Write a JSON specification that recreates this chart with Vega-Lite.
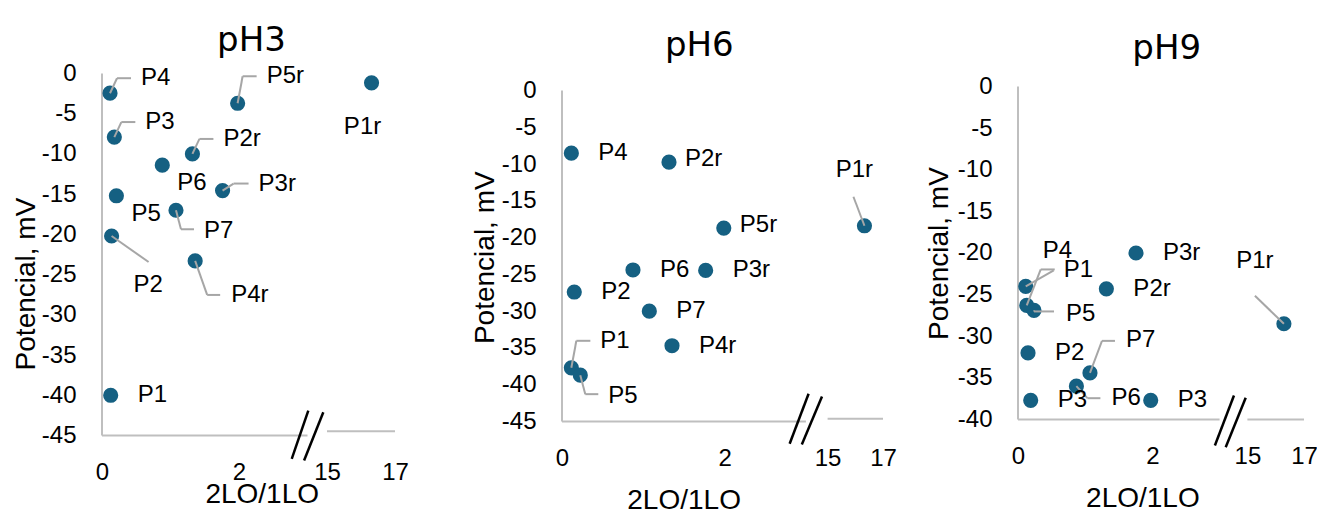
{
  "$schema": "https://vega.github.io/schema/vega-lite/v6.json",
  "padding": {"left": 12, "top": 23.5, "right": 0, "bottom": 0},
  "bounds": "flush",
  "spacing": 0,
  "params": [
    {"name": "posCats", "value": ["E","En","SEn","S","NE1","NE2","NE3","NE4","NEd","ENE","EL","SE1","SE2","SE3","SSE","N","NW"]},
    {"name": "posDx", "value": [27,16,15,-9,31,29,36,37,17,36,32,28,36,35,22,-10,-29]},
    {"name": "posDy", "value": [0,-3,18,44,-15,-27,-33,-35,-35,-7,4,21,34,12,49,-56,-63]},
    {"name": "posEx", "value": [0,0,0,0,7,5,12,14,28,11,0,5,12,11,37,-11,-29]},
    {"name": "posEy", "value": [0,0,0,0,-15,-27,-32,-36,-16,-7,1,19,34,12,26,-29,-28]},
    {"name": "posHx", "value": [0,0,0,0,21,19,25,28,28,26,20,18,25,24,37,-11,-29]}
  ],
  "datasets": {
    "ph3": [
      {"label":"P1","ratio":0.127,"potential":-40.0,"pos":"E"},
      {"label":"P2","ratio":0.14,"potential":-20.2,"pos":"SSE"},
      {"label":"P3","ratio":0.18,"potential":-7.9,"pos":"NE1"},
      {"label":"P4","ratio":0.117,"potential":-2.45,"pos":"NE1"},
      {"label":"P5","ratio":0.21,"potential":-15.2,"pos":"SEn"},
      {"label":"P6","ratio":0.88,"potential":-11.4,"pos":"SEn"},
      {"label":"P7","ratio":1.08,"potential":-17.0,"pos":"SE1"},
      {"label":"P1r","ratio":16.31,"potential":-1.16,"pos":"S"},
      {"label":"P2r","ratio":1.32,"potential":-10.0,"pos":"NE1"},
      {"label":"P3r","ratio":1.76,"potential":-14.55,"pos":"ENE"},
      {"label":"P4r","ratio":1.36,"potential":-23.3,"pos":"SE2"},
      {"label":"P5r","ratio":1.98,"potential":-3.7,"pos":"NE2"}
    ],
    "ph6": [
      {"label":"P1","ratio":0.115,"potential":-37.7,"pos":"NE2"},
      {"label":"P2","ratio":0.151,"potential":-27.4,"pos":"E"},
      {"label":"P4","ratio":0.115,"potential":-8.52,"pos":"E"},
      {"label":"P5","ratio":0.225,"potential":-38.7,"pos":"SE1"},
      {"label":"P6","ratio":0.873,"potential":-24.4,"pos":"E"},
      {"label":"P7","ratio":1.074,"potential":-30.0,"pos":"E"},
      {"label":"P1r","ratio":16.33,"potential":-18.39,"pos":"N"},
      {"label":"P2r","ratio":1.316,"potential":-9.74,"pos":"En"},
      {"label":"P3r","ratio":1.767,"potential":-24.46,"pos":"E"},
      {"label":"P4r","ratio":1.353,"potential":-34.7,"pos":"E"},
      {"label":"P5r","ratio":1.99,"potential":-18.7,"pos":"En"}
    ],
    "ph9": [
      {"label":"P1","ratio":0.13,"potential":-26.3,"pos":"NE4"},
      {"label":"P2","ratio":0.149,"potential":-32.0,"pos":"E"},
      {"label":"P3","ratio":0.189,"potential":-37.7,"pos":"E"},
      {"label":"P4","ratio":0.115,"potential":-24.0,"pos":"NEd"},
      {"label":"P5","ratio":0.238,"potential":-26.9,"pos":"EL"},
      {"label":"P6","ratio":0.869,"potential":-36.0,"pos":"SE3"},
      {"label":"P7","ratio":1.071,"potential":-34.4,"pos":"NE3"},
      {"label":"P1r","ratio":16.29,"potential":-28.5,"pos":"NW"},
      {"label":"P2r","ratio":1.315,"potential":-24.3,"pos":"E"},
      {"label":"P3r","ratio":1.756,"potential":-20.0,"pos":"E"},
      {"label":"P3","ratio":1.975,"potential":-37.7,"pos":"E"}
    ]
  },
  "hconcat": [
    {
      "width": 459.7, "height": 362,
      "title": {"text": "pH3", "anchor": "start", "frame": "group", "align": "center", "dx": 149.5, "baseline": "alphabetic", "offset": -23.4, "font": "DejaVu Sans", "fontSize": 34, "fontWeight": "normal", "color": "#000"},
      "data": {"name": "ph3"},
      "layer": [
        {"data": {"values": [{}]}, "mark": {"type": "rule", "color": "#bfbfbf", "strokeWidth": 2},
         "encoding": {"x": {"datum": 0, "type": "quantitative"}, "y": {"datum": 0, "type": "quantitative"}, "y2": {"datum": -45}}},
        {"data": {"values": [{}]}, "mark": {"type": "rule", "color": "#bfbfbf", "strokeWidth": 2},
         "encoding": {"x": {"datum": 0, "type": "quantitative"}, "x2": {"datum": 3}, "y": {"datum": -45, "type": "quantitative"}}},
        {"data": {"values": [{}]}, "mark": {"type": "rule", "color": "#bfbfbf", "strokeWidth": 2},
         "encoding": {"x": {"datum": 15, "type": "quantitative"}, "x2": {"datum": 17}, "y": {"datum": -44.47, "type": "quantitative"}}},
        {"data": {"values": [{}]}, "mark": {"type": "rule", "color": "#000", "strokeWidth": 2.5},
         "encoding": {"x": {"datum": 2.77, "type": "quantitative"}, "x2": {"datum": 3.49}, "y": {"datum": -47.9, "type": "quantitative"}, "y2": {"datum": -41.9}}},
        {"data": {"values": [{}]}, "mark": {"type": "rule", "color": "#000", "strokeWidth": 2.5},
         "encoding": {"x": {"datum": 2.95, "type": "quantitative"}, "x2": {"datum": 12.72}, "y": {"datum": -48.1, "type": "quantitative"}, "y2": {"datum": -42.1}}},
        {"mark": {"type": "circle", "size": 230, "color": "#156082", "opacity": 1},
         "encoding": {
           "x": {"field": "ratio", "type": "quantitative",
                 "scale": {"domain": [0, 3, 15, 17], "range": [0, 205.5, 225, 293], "nice": false, "zero": false},
                 "axis": {"values": [0, 2, 15, 17], "tickCount": 20, "labelPadding": 37, "labelBaseline": "middle", "labelFlush": false, "labelOverlap": false,
                          "title": "2LO/1LO", "titleX": 159.7, "titleY": 59, "titleAlign": "center", "titleBaseline": "middle",
                          "encode": {"labels": {"update": {"dy": {"signal": "datum.value > 10 ? -2 : 0"}}}}}},
           "y": {"field": "potential", "type": "quantitative",
                 "scale": {"domain": [-45, 0], "nice": false, "zero": false},
                 "axis": {"values": [0,-5,-10,-15,-20,-25,-30,-35,-40,-45], "tickCount": 20, "labelPadding": 26, "labelBaseline": "middle", "labelFlush": false, "labelOverlap": false,
                          "labelExpr": "replace(datum.label, '\u2212', '-')",
                          "title": "Potencial, mV", "titleAngle": 270, "titleX": -76, "titleY": 210, "titleAlign": "center", "titleBaseline": "middle"}}
         }},
        {"transform": [{"filter": "indexof(['E','En','SEn','S'], datum.pos) < 0"}],
         "mark": {"type": "rule", "color": "#a6a6a6", "strokeWidth": 2,
                  "x2Offset": {"expr": "posEx[indexof(posCats, datum.pos)]"}, "y2Offset": {"expr": "posEy[indexof(posCats, datum.pos)]"}},
         "encoding": {"x": {"field": "ratio", "type": "quantitative"}, "y": {"field": "potential", "type": "quantitative"}, "x2": {"field": "ratio"}, "y2": {"field": "potential"}}},
        {"transform": [{"filter": "indexof(['E','En','SEn','S','NEd','SSE','N','NW'], datum.pos) < 0"}],
         "mark": {"type": "rule", "color": "#a6a6a6", "strokeWidth": 2,
                  "xOffset": {"expr": "posEx[indexof(posCats, datum.pos)]"}, "yOffset": {"expr": "posEy[indexof(posCats, datum.pos)]"},
                  "x2Offset": {"expr": "posHx[indexof(posCats, datum.pos)]"}, "y2Offset": {"expr": "posEy[indexof(posCats, datum.pos)]"}},
         "encoding": {"x": {"field": "ratio", "type": "quantitative"}, "y": {"field": "potential", "type": "quantitative"}, "x2": {"field": "ratio"}, "y2": {"field": "potential"}}},
        {"mark": {"type": "text", "font": "Liberation Sans", "fontSize": 24, "color": "#000", "baseline": "middle",
                  "align": {"expr": "indexof(['S','N','NW'], datum.pos) >= 0 ? 'center' : 'left'"},
                  "dx": {"expr": "posDx[indexof(posCats, datum.pos)]"}, "dy": {"expr": "posDy[indexof(posCats, datum.pos)]"}},
         "encoding": {"x": {"field": "ratio", "type": "quantitative"}, "y": {"field": "potential", "type": "quantitative"}, "text": {"field": "label"}}}
      ]
    },
    {
      "width": 455.6, "height": 348,
      "title": {"text": "pH6", "anchor": "start", "frame": "group", "align": "center", "dx": 137.3, "baseline": "alphabetic", "offset": -16.4, "font": "DejaVu Sans", "fontSize": 34, "fontWeight": "normal", "color": "#000"},
      "data": {"name": "ph6"},
      "layer": [
        {"data": {"values": [{}]}, "mark": {"type": "rule", "color": "#bfbfbf", "strokeWidth": 2},
         "encoding": {"x": {"datum": 0, "type": "quantitative"}, "y": {"datum": 0, "type": "quantitative"}, "y2": {"datum": -45}}},
        {"data": {"values": [{}]}, "mark": {"type": "rule", "color": "#bfbfbf", "strokeWidth": 2},
         "encoding": {"x": {"datum": 0, "type": "quantitative"}, "x2": {"datum": 3}, "y": {"datum": -45, "type": "quantitative"}}},
        {"data": {"values": [{}]}, "mark": {"type": "rule", "color": "#bfbfbf", "strokeWidth": 2},
         "encoding": {"x": {"datum": 15, "type": "quantitative"}, "x2": {"datum": 17}, "y": {"datum": -44.63, "type": "quantitative"}}},
        {"data": {"values": [{}]}, "mark": {"type": "rule", "color": "#000", "strokeWidth": 2.5},
         "encoding": {"x": {"datum": 2.80, "type": "quantitative"}, "x2": {"datum": 4.49}, "y": {"datum": -48.03, "type": "quantitative"}, "y2": {"datum": -41.23}}},
        {"data": {"values": [{}]}, "mark": {"type": "rule", "color": "#000", "strokeWidth": 2.5},
         "encoding": {"x": {"datum": 2.95, "type": "quantitative"}, "x2": {"datum": 11.9}, "y": {"datum": -48.12, "type": "quantitative"}, "y2": {"datum": -41.6}}},
        {"mark": {"type": "circle", "size": 230, "color": "#156082", "opacity": 1},
         "encoding": {
           "x": {"field": "ratio", "type": "quantitative",
                 "scale": {"domain": [0, 3, 15, 17], "range": [0, 243.9, 265.6, 321], "nice": false, "zero": false},
                 "axis": {"values": [0, 2, 15, 17], "tickCount": 20, "labelPadding": 37, "labelBaseline": "middle", "labelFlush": false, "labelOverlap": false,
                          "title": "2LO/1LO", "titleX": 121.6, "titleY": 79, "titleAlign": "center", "titleBaseline": "middle",
                          "encode": {"labels": {"update": {"dy": {"signal": "datum.value > 10 ? -6 : 0"}}}}}},
           "y": {"field": "potential", "type": "quantitative",
                 "scale": {"domain": [-45, 2.31], "nice": false, "zero": false},
                 "axis": {"values": [0,-5,-10,-15,-20,-25,-30,-35,-40,-45], "tickCount": 20, "labelPadding": 26, "labelBaseline": "middle", "labelFlush": false, "labelOverlap": false,
                          "labelExpr": "replace(datum.label, '\u2212', '-')",
                          "title": "Potencial, mV", "titleAngle": 270, "titleX": -77, "titleY": 183.7, "titleAlign": "center", "titleBaseline": "middle"}}
         }},
        {"transform": [{"filter": "indexof(['E','En','SEn','S'], datum.pos) < 0"}],
         "mark": {"type": "rule", "color": "#a6a6a6", "strokeWidth": 2,
                  "x2Offset": {"expr": "posEx[indexof(posCats, datum.pos)]"}, "y2Offset": {"expr": "posEy[indexof(posCats, datum.pos)]"}},
         "encoding": {"x": {"field": "ratio", "type": "quantitative"}, "y": {"field": "potential", "type": "quantitative"}, "x2": {"field": "ratio"}, "y2": {"field": "potential"}}},
        {"transform": [{"filter": "indexof(['E','En','SEn','S','NEd','SSE','N','NW'], datum.pos) < 0"}],
         "mark": {"type": "rule", "color": "#a6a6a6", "strokeWidth": 2,
                  "xOffset": {"expr": "posEx[indexof(posCats, datum.pos)]"}, "yOffset": {"expr": "posEy[indexof(posCats, datum.pos)]"},
                  "x2Offset": {"expr": "posHx[indexof(posCats, datum.pos)]"}, "y2Offset": {"expr": "posEy[indexof(posCats, datum.pos)]"}},
         "encoding": {"x": {"field": "ratio", "type": "quantitative"}, "y": {"field": "potential", "type": "quantitative"}, "x2": {"field": "ratio"}, "y2": {"field": "potential"}}},
        {"mark": {"type": "text", "font": "Liberation Sans", "fontSize": 24, "color": "#000", "baseline": "middle",
                  "align": {"expr": "indexof(['S','N','NW'], datum.pos) >= 0 ? 'center' : 'left'"},
                  "dx": {"expr": "posDx[indexof(posCats, datum.pos)]"}, "dy": {"expr": "posDy[indexof(posCats, datum.pos)]"}},
         "encoding": {"x": {"field": "ratio", "type": "quantitative"}, "y": {"field": "potential", "type": "quantitative"}, "text": {"field": "label"}}}
      ]
    },
    {
      "width": 287, "height": 346,
      "title": {"text": "pH9", "anchor": "start", "frame": "group", "align": "center", "dx": 148.7, "baseline": "alphabetic", "offset": -19.5, "font": "DejaVu Sans", "fontSize": 34, "fontWeight": "normal", "color": "#000"},
      "data": {"name": "ph9"},
      "layer": [
        {"data": {"values": [{}]}, "mark": {"type": "rule", "color": "#bfbfbf", "strokeWidth": 2},
         "encoding": {"x": {"datum": 0, "type": "quantitative"}, "y": {"datum": 0, "type": "quantitative"}, "y2": {"datum": -40}}},
        {"data": {"values": [{}]}, "mark": {"type": "rule", "color": "#bfbfbf", "strokeWidth": 2},
         "encoding": {"x": {"datum": 0, "type": "quantitative"}, "x2": {"datum": 3}, "y": {"datum": -40, "type": "quantitative"}}},
        {"data": {"values": [{}]}, "mark": {"type": "rule", "color": "#bfbfbf", "strokeWidth": 2},
         "encoding": {"x": {"datum": 15, "type": "quantitative"}, "x2": {"datum": 17}, "y": {"datum": -40, "type": "quantitative"}}},
        {"data": {"values": [{}]}, "mark": {"type": "rule", "color": "#000", "strokeWidth": 2.5},
         "encoding": {"x": {"datum": 2.93, "type": "quantitative"}, "x2": {"datum": 9.2}, "y": {"datum": -43.12, "type": "quantitative"}, "y2": {"datum": -37.12}}},
        {"data": {"values": [{}]}, "mark": {"type": "rule", "color": "#000", "strokeWidth": 2.5},
         "encoding": {"x": {"datum": 5.63, "type": "quantitative"}, "x2": {"datum": 14.27}, "y": {"datum": -43.33, "type": "quantitative"}, "y2": {"datum": -37.39}}},
        {"mark": {"type": "circle", "size": 230, "color": "#156082", "opacity": 1},
         "encoding": {
           "x": {"field": "ratio", "type": "quantitative",
                 "scale": {"domain": [0, 3, 15, 17], "range": [0, 201.6, 229.4, 286], "nice": false, "zero": false},
                 "axis": {"values": [0, 2, 15, 17], "tickCount": 20, "labelPadding": 37, "labelBaseline": "middle", "labelFlush": false, "labelOverlap": false,
                          "title": "2LO/1LO", "titleX": 124.4, "titleY": 79, "titleAlign": "center", "titleBaseline": "middle"}},
           "y": {"field": "potential", "type": "quantitative",
                 "scale": {"domain": [-40, 1.56], "nice": false, "zero": false},
                 "axis": {"values": [0,-5,-10,-15,-20,-25,-30,-35,-40], "tickCount": 20, "labelPadding": 26, "labelBaseline": "middle", "labelFlush": false, "labelOverlap": false,
                          "labelExpr": "replace(datum.label, '\u2212', '-')",
                          "title": "Potencial, mV", "titleAngle": 270, "titleX": -79, "titleY": 179.5, "titleAlign": "center", "titleBaseline": "middle"}}
         }},
        {"transform": [{"filter": "indexof(['E','En','SEn','S'], datum.pos) < 0"}],
         "mark": {"type": "rule", "color": "#a6a6a6", "strokeWidth": 2,
                  "x2Offset": {"expr": "posEx[indexof(posCats, datum.pos)]"}, "y2Offset": {"expr": "posEy[indexof(posCats, datum.pos)]"}},
         "encoding": {"x": {"field": "ratio", "type": "quantitative"}, "y": {"field": "potential", "type": "quantitative"}, "x2": {"field": "ratio"}, "y2": {"field": "potential"}}},
        {"transform": [{"filter": "indexof(['E','En','SEn','S','NEd','SSE','N','NW'], datum.pos) < 0"}],
         "mark": {"type": "rule", "color": "#a6a6a6", "strokeWidth": 2,
                  "xOffset": {"expr": "posEx[indexof(posCats, datum.pos)]"}, "yOffset": {"expr": "posEy[indexof(posCats, datum.pos)]"},
                  "x2Offset": {"expr": "posHx[indexof(posCats, datum.pos)]"}, "y2Offset": {"expr": "posEy[indexof(posCats, datum.pos)]"}},
         "encoding": {"x": {"field": "ratio", "type": "quantitative"}, "y": {"field": "potential", "type": "quantitative"}, "x2": {"field": "ratio"}, "y2": {"field": "potential"}}},
        {"mark": {"type": "text", "font": "Liberation Sans", "fontSize": 24, "color": "#000", "baseline": "middle",
                  "align": {"expr": "indexof(['S','N','NW'], datum.pos) >= 0 ? 'center' : 'left'"},
                  "dx": {"expr": "posDx[indexof(posCats, datum.pos)]"}, "dy": {"expr": "posDy[indexof(posCats, datum.pos)]"}},
         "encoding": {"x": {"field": "ratio", "type": "quantitative"}, "y": {"field": "potential", "type": "quantitative"}, "text": {"field": "label"}}}
      ]
    }
  ],
  "config": {
    "font": "Liberation Sans",
    "view": {"stroke": null},
    "axis": {"grid": false, "ticks": false, "tickSize": 0, "domain": false, "labelOverlap": false,
             "labelFont": "Liberation Sans", "labelFontSize": 24, "labelColor": "#000",
             "titleFont": "Liberation Sans", "titleFontSize": 28, "titleFontWeight": "normal", "titleColor": "#000"}
  }
}
